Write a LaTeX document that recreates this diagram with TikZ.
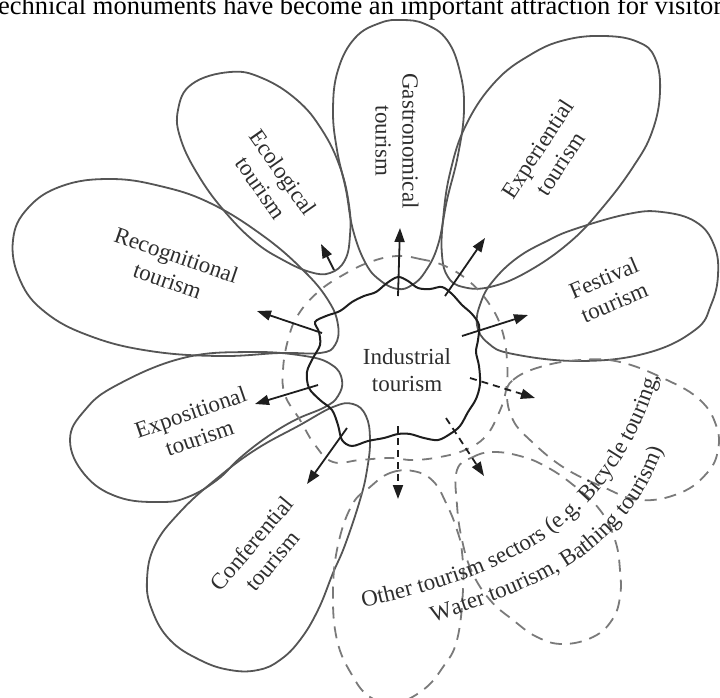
\documentclass[tikz,border=0pt]{standalone}
\usepackage{fontspec}
\setmainfont{Liberation Serif}
\usetikzlibrary{arrows.meta,decorations.text}
\definecolor{petal}{HTML}{555555}
\definecolor{dashc}{HTML}{7A7A7A}
\definecolor{ink}{HTML}{1E1E1E}
\definecolor{txt}{HTML}{2E2E2E}
\tikzset{
  petalline/.style={draw=petal, line width=1.8pt},
  dashloop/.style={draw=dashc, line width=1.8pt, dash pattern=on 12pt off 8pt},
  wavyline/.style={draw=ink, line width=2pt},
  arr/.style={draw=ink, line width=1.8pt, -{Triangle[length=14pt,width=10pt]}},
  darr/.style={arr, dash pattern=on 7pt off 5pt},
  lbl/.style={text=txt, font=\fontsize{23}{27}\selectfont, align=center, inner sep=0pt},
}
\begin{document}
\begin{tikzpicture}[x=1pt,y=-1pt]
\useasboundingbox (0,0) rectangle (720,697);
\clip (0,0) rectangle (720,697);

% header text (cut at top)
\node[anchor=base west, inner sep=0pt, text=black, font=\fontsize{26.5}{30}\selectfont] (head) at (-9.5,14) {technical monuments have become an important attraction for visitors};

% petals
\draw[petalline] plot[smooth cycle, tension=0.7] coordinates {(398,289) (381,281) (366,264) (353,230) (346,190) (337,150) (333,110) (338,70) (355,38) (380,23) (402,20) (425,24) (447,40) (460,72) (464,110) (458,155) (447,200) (438,245) (425,272) (412,285)};
\draw[petalline] plot[smooth cycle, tension=0.7] coordinates {(230,72) (262,78) (297,100) (322,130) (340,167) (349,205) (350,235) (345,260) (330,273) (310,272) (283,260) (255,242) (226,213) (200,178) (181,140) (178,110) (192,84)};
\draw[petalline] plot[smooth cycle, tension=0.7] coordinates {(13,240) (28,208) (62,186) (110,179) (160,186) (210,203) (262,235) (303,270) (328,300) (338,325) (335,345) (320,353) (280,353) (220,356) (150,351) (90,336) (45,312) (20,280)};
\draw[petalline] plot[smooth cycle, tension=0.7] coordinates {(605,36) (638,42) (655,58) (660,92) (652,132) (633,167) (603,207) (570,242) (527,272) (490,287) (463,287) (448,277) (442,255) (443,220) (450,173) (466,125) (495,82) (530,55) (565,40)};
\draw[petalline] plot[smooth cycle, tension=0.7] coordinates {(477,325) (481,302) (493,281) (517,258) (547,241) (575,229) (628,214) (662,212) (696,222) (714,245) (718,275) (711,305) (695,330) (647,353) (580,361) (513,354) (488,343)};
\draw[petalline] plot[smooth cycle, tension=0.7] coordinates {(70,440) (85,410) (117,385) (183,358) (250,352) (305,356) (332,365) (342,380) (338,396) (325,407) (295,420) (267,437) (240,458) (217,480) (188,497) (160,502) (118,497) (85,475)};
\draw[petalline] plot[smooth cycle, tension=0.7] coordinates {(333,407) (353,404) (366,416) (370,440) (367,470) (360,500) (345,545) (333,573) (318,610) (300,640) (280,660) (258,670) (230,670) (200,660) (170,640) (152,610) (147,580) (155,545) (180,512) (215,480) (255,450) (300,425)};

% dashed loops (other sectors)
\draw[dashloop] plot[smooth cycle, tension=0.7] coordinates {(507,395) (513,380) (540,367) (580,360) (620,362) (667,380) (700,400) (716,425) (718,450) (707,473) (680,493) (640,500) (603,487) (563,467) (530,440) (513,420)};
\draw[dashloop] plot[smooth cycle, tension=0.7] coordinates {(457,470) (473,457) (493,452) (520,456) (545,466) (572,484) (600,510) (615,540) (620,570) (620,597) (612,620) (593,637) (563,644) (537,637) (513,620) (490,600) (472,572) (462,540) (457,505)};
\draw[dashloop] plot[smooth cycle, tension=0.7] coordinates {(370,487) (390,473) (413,471) (433,481) (447,505) (457,530) (462,552) (463,590) (457,640) (443,667) (423,690) (395,703) (370,697) (352,675) (337,640) (333,592) (338,545) (352,505)};

% dashed ring
\draw[dashloop, dash pattern=on 10pt off 9pt] plot[smooth cycle, tension=0.7] coordinates {(397,256) (420,259) (445,266) (470,282) (490,305) (502,330) (507,360) (506,390) (498,415) (485,437) (465,450) (440,457) (413,460) (390,458) (360,460) (333,462) (315,445) (300,420) (285,395) (283,370) (288,340) (298,315) (318,292) (343,275) (370,262)};

% wavy core
\draw[wavyline] plot[smooth cycle, tension=0.55] coordinates {(398,277) (408,281) (418,288) (430,289) (442,287) (452,294) (462,305) (472,314) (479,325) (478,340) (476,352) (479,366) (480,384) (476,399) (468,412) (460,426) (450,434) (438,440) (424,438) (410,434) (398,434) (384,438) (368,441) (352,446) (342,440) (338,425) (332,410) (320,400) (309,388) (307,372) (313,358) (320,345) (319,332) (315,322) (326,316) (340,311) (352,302) (364,296) (376,292) (387,283)};

% arrow coordinates
\coordinate (gT) at (398,296); \coordinate (gH) at (400,228);
\coordinate (eT) at (334,270); \coordinate (eH) at (321,244);
\coordinate (xT) at (445,296); \coordinate (xH) at (485,238);
\coordinate (fT) at (462,336); \coordinate (fH) at (528,315);
\coordinate (rT) at (322,333); \coordinate (rH) at (257,311);
\coordinate (pT) at (318,385); \coordinate (pH) at (255,404);
\coordinate (cT) at (347,428); \coordinate (cH) at (307,484);
\coordinate (d1T) at (470,378); \coordinate (d1H) at (535,398);
\coordinate (d2T) at (446,418); \coordinate (d2H) at (484,476);
\coordinate (d3T) at (398,426); \coordinate (d3H) at (398,499);

\draw[arr] (gT) -- (gH);
\draw[arr] (eT) -- (eH);
\draw[arr] (xT) -- (xH);
\draw[arr] (fT) -- (fH);
\draw[arr] (rT) -- (rH);
\draw[arr] (pT) -- (pH);
\draw[arr] (cT) -- (cH);
\draw[darr] (d1T) -- (d1H);
\draw[darr] (d2T) -- (d2H);
\draw[darr] (d3T) -- (d3H);

% labels
\node[lbl, rotate=-90] (gas) at (397,141) {Gastronomical\\tourism};
\node[lbl, rotate=-55] (eco) at (272,180) {Ecological\\tourism};
\node[lbl, rotate=57] (exp) at (549,156) {Experiential\\tourism};
\node[lbl, rotate=23] (fes) at (609,290) {Festival\\tourism};
\node[lbl, rotate=-19] (rec) at (172,268) {Recognitional\\tourism};
\node[lbl, rotate=19] (xpo) at (195,425) {Expositional\\tourism};
\node[lbl, rotate=50] (con) at (262,552) {Conferential\\tourism};
\node[lbl] (ind) at (407,370) {Industrial\\tourism};

% curved text
\path[decorate, decoration={text along path, text align=left, text color=txt,
  text={|\fontsize{23}{27}\selectfont|Other tourism sectors (e.g. Bicycle touring,}}]
  (363,607) .. controls (510,576) and (611,525) .. (657,382) -- (664,360);
\path[decorate, decoration={text along path, text align=left, text color=txt,
  text={|\fontsize{23}{27}\selectfont|Water tourism, Bathing tourism)}}]
  (433,622) .. controls (538,588) and (624,555) .. (662,452) -- (670,430);
\end{tikzpicture}
\end{document}
